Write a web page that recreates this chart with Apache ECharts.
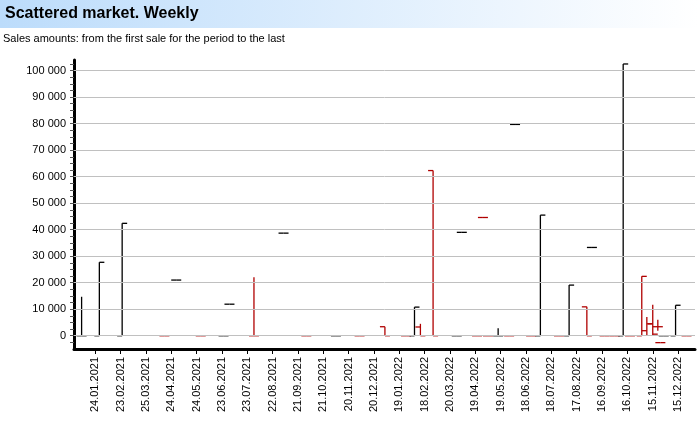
<!DOCTYPE html>
<html lang="en">
<head>
    <meta charset="UTF-8">
    <title>Scattered market. Weekly</title>
    <style>
        body{ margin:0; }
        #main{ width:698px; height:425px; }
    </style>
</head>
<body>
    <div id="main"></div>
    <script src="https://cdn.jsdelivr.net/npm/echarts@6/dist/echarts.min.js"></script>
    <script>
        // day offsets from 24.01.2021
        var days  = [-16, 5, 32, 82, 96, 125, 152, 159, 188, 223, 250, 285, 313, 343, 368, 378, 385, 400, 428, 434, 452, 459, 465, 477, 490, 497, 516, 527, 549, 561, 582, 588, 603, 615, 625, 633, 647, 653, 660, 666, 669, 673, 687, 700];
        var opens = [0, 0, 0, 0, 21000, 0, 0, 11900, 0, 38700, 0, 0, 0, 3400, 0, 0, 3300, 62300, 0, 39000, 0, 44600, 0, 0, 0, 79700, 0, 0, 0, 0, 10900, 33300, 0, 0, 0, 0, 0, 1900, 4500, 3400, -2600, 0, 0, 0];
        var highs = [14700, 27700, 42400, 0, 21000, 0, 0, 11900, 22100, 38700, 0, 0, 0, 3400, 0, 10800, 4500, 62300, 0, 39000, 0, 44600, 0, 2800, 0, 79700, 0, 45500, 0, 19100, 10900, 33300, 0, 0, 102500, 0, 22400, 7100, 11700, 6000, -2600, 0, 11500, 0];
        var lows  = [0, 0, 0, 0, 21000, 0, 0, 11900, 0, 38700, 0, 0, 0, 0, 0, 0, 0, 0, 0, 39000, 0, 44600, 0, 0, 0, 79700, 0, 0, 0, 0, 0, 33300, 0, 0, 0, 0, 0, 0, 0, 1900, -2600, 0, 0, 0];
        var closes= [0, 27700, 42400, 0, 21000, 0, 0, 11900, 0, 38700, 0, 0, 0, 0, 0, 10800, 0, 0, 0, 39000, 0, 44600, 0, 0, 0, 79700, 0, 45500, 0, 19100, 0, 33300, 0, 0, 102500, 0, 22400, 4500, 600, 3400, -2600, 0, 11500, 0];
        var down  = [0, 0, 0, 1, 0, 1, 0, 0, 1, 0, 1, 0, 1, 1, 1, 0, 1, 1, 0, 0, 1, 1, 1, 0, 1, 0, 1, 0, 1, 0, 1, 0, 1, 1, 0, 1, 1, 1, 1, 1, 1, 0, 0, 1];

        var xTicks = [];
        for (var d = 0; d <= 690; d += 30) xTicks.push(d);
        var yLabels = [0, 10000, 20000, 30000, 40000, 50000, 60000, 70000, 80000, 90000, 100000];
        var yMinor = [];
        for (var v = -2500; v <= 102500; v += 2500) yMinor.push(v);

        var start = new Date(2021, 0, 24);
        function fmtDate(d) {
            var t = new Date(start.getTime() + d * 86400000);
            var dd = ('0' + t.getDate()).slice(-2), mm = ('0' + (t.getMonth() + 1)).slice(-2);
            return dd + '.' + mm + '.' + t.getFullYear();
        }
        function fmtNum(v) {
            return String(v).replace(/\B(?=(\d{3})+(?!\d))/g, ' ');
        }

        var data = days.map(function (d, i) {
            return [d, opens[i], highs[i], lows[i], closes[i], down[i]];
        });

        var mychart = echarts.init(document.getElementById('main'));
        var option = {
            animation: false,
            textStyle: { fontFamily: 'Liberation Sans, Arial' },
            graphic: [
                {
                    type: 'rect', left: 0, top: 0, shape: { width: 698, height: 28 },
                    style: { fill: new echarts.graphic.LinearGradient(0, 0, 1, 0, [
                        { offset: 0, color: '#bcdcfb' }, { offset: 1, color: '#ffffff' }]) }
                },
                { type: 'text', left: 5, top: 6, style: { text: 'Scattered market. Weekly', font: 'bold 16px Liberation Sans, Arial', fill: '#000' } },
                { type: 'text', left: 3, top: 33, style: { text: 'Sales amounts: from the first sale for the period to the last', font: '11px Liberation Sans, Arial', fill: '#000' } }
            ],
            grid: { left: 74, right: 3, top: 60, bottom: 76 },
            xAxis: {
                type: 'value', min: -25, max: 710,
                splitLine: { show: false },
                axisLine: { onZero: false, lineStyle: { color: '#000', width: 3 } },
                axisTick: { customValues: xTicks, length: 5, lineStyle: { color: '#000' } },
                axisLabel: { customValues: xTicks, rotate: 90, color: '#000', fontSize: 11, formatter: fmtDate }
            },
            yAxis: {
                type: 'value', min: -5000, max: 104000,
                splitLine: { show: false },
                axisLine: { show: true, onZero: false, lineStyle: { color: '#000', width: 3 } },
                axisTick: { customValues: yMinor, length: 4, lineStyle: { color: '#555' } },
                axisLabel: { customValues: yLabels, color: '#000', fontSize: 11, formatter: fmtNum }
            },
            series: [{
                type: 'custom',
                data: data,
                encode: { x: 0, y: [1, 2, 3, 4] },
                renderItem: function (params, api) {
                    var x = api.value(0);
                    var o = api.coord([x, api.value(1)]);
                    var h = api.coord([x, api.value(2)]);
                    var l = api.coord([x, api.value(3)]);
                    var c = api.coord([x, api.value(4)]);
                    var col = api.value(5) ? '#b00000' : '#000000';
                    var st = { stroke: col, lineWidth: 1.3 };
                    return {
                        type: 'group',
                        children: [
                            { type: 'line', shape: { x1: h[0], y1: h[1], x2: l[0], y2: l[1] }, style: st },
                            { type: 'line', shape: { x1: o[0] - 5, y1: o[1], x2: o[0], y2: o[1] }, style: st },
                            { type: 'line', shape: { x1: c[0], y1: c[1], x2: c[0] + 5, y2: c[1] }, style: st }
                        ]
                    };
                },
                markLine: {
                    silent: true, symbol: 'none', label: { show: false },
                    lineStyle: { color: '#c0c0c0', type: 'solid', width: 1 },
                    data: yLabels.map(function (v) { return { yAxis: v }; })
                },
                z: 3
            }]
        };
        option && mychart.setOption(option);
    </script>
</body>
</html>
